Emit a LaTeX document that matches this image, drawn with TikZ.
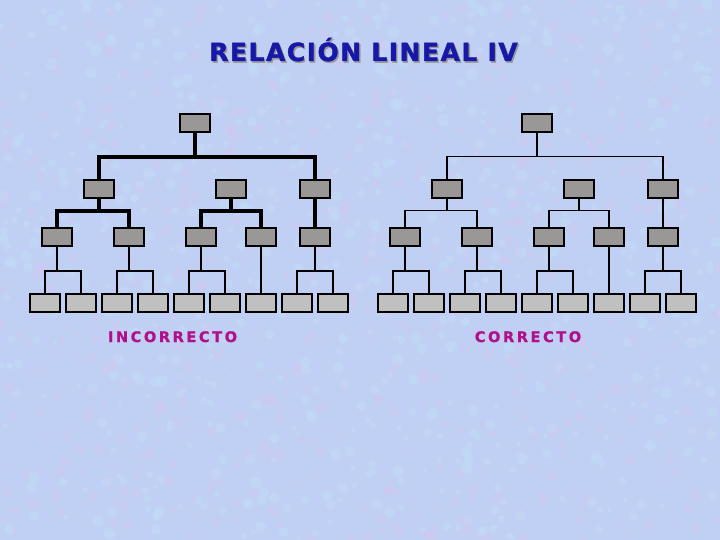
\documentclass[tikz,border=0pt]{standalone}
\usepackage{fontspec}
\newfontfamily\titlefont[LetterSpace=6,FakeBold=1.6]{DejaVu Sans}
\newfontfamily\labelfont[LetterSpace=18,FakeBold=1.2]{DejaVu Sans}
\usetikzlibrary{calc}
\definecolor{bgblue}{RGB}{192,208,244}
\definecolor{bgpink}{RGB}{222,196,240}
\definecolor{bgcyan}{RGB}{196,228,250}
\definecolor{upgray}{RGB}{154,152,151}
\definecolor{leafgray}{RGB}{192,192,192}
\definecolor{titleblue}{RGB}{24,24,168}
\definecolor{labelmag}{RGB}{176,16,136}
\tikzset{
  upbox/.style={draw=black, line width=1.5pt, fill=upgray, minimum width=30pt, minimum height=18pt, inner sep=0pt},
  leafbox/.style={upbox, fill=leafgray},
  thk/.style={line width=3.8pt, line join=miter, line cap=rect},
  thn/.style={line width=1.5pt, line join=miter},
  titletext/.style={anchor=base, font=\titlefont\bfseries\fontsize{25}{30}\selectfont},
  labeltext/.style={anchor=base, text=labelmag, font=\labelfont\bfseries\fontsize{14.5}{18}\selectfont}
}
\newcommand\shadowtext[1]{\makebox[0pt][l]{\hspace{1.4pt}\raisebox{-1.6pt}{\textcolor{black!40}{#1}}}#1}
% #1 prefix, #2 x shift, #3 root centre x, #4 style of upper connectors
\newcommand\drawmytree[4]{%
  \node[upbox] (#1root) at (#3,123) {};
  \node[upbox] (#1A) at (99+#2,189) {};
  \node[upbox] (#1B) at (231+#2,189) {};
  \node[upbox] (#1C) at (315+#2,189) {};
  \node[upbox] (#1a1) at (57+#2,237) {};
  \node[upbox] (#1a2) at (129+#2,237) {};
  \node[upbox] (#1b1) at (201+#2,237) {};
  \node[upbox] (#1b2) at (261+#2,237) {};
  \node[upbox] (#1c1) at (315+#2,237) {};
  \foreach \i in {1,...,9} {
    \node[leafbox] (#1l\i) at ({45+36*(\i-1)+#2},303) {};
  }
  % upper connectors
  \draw[#4] (#1root.south) -- ($(#1root.south)+(0,24)$);
  \draw[#4] (#1A.north) |- ($(#1root.south)+(0,24)$) -| (#1C.north);
  \draw[#4] (#1A.south) -- ($(#1A.south)+(0,12)$);
  \draw[#4] (#1a1.north) |- ($(#1A.south)+(0,12)$) -| (#1a2.north);
  \draw[#4] (#1B.south) -- ($(#1B.south)+(0,12)$);
  \draw[#4] (#1b1.north) |- ($(#1B.south)+(0,12)$) -| (#1b2.north);
  \draw[#4] (#1C.south) -- (#1c1.north);
  % lower connectors
  \draw[thn] (#1a1.south) -- ($(#1a1.south)+(0,24)$);
  \draw[thn] (#1l1.north) |- ($(#1a1.south)+(0,24)$) -| (#1l2.north);
  \draw[thn] (#1a2.south) -- ($(#1a2.south)+(0,24)$);
  \draw[thn] (#1l3.north) |- ($(#1a2.south)+(0,24)$) -| (#1l4.north);
  \draw[thn] (#1b1.south) -- ($(#1b1.south)+(0,24)$);
  \draw[thn] (#1l5.north) |- ($(#1b1.south)+(0,24)$) -| (#1l6.north);
  \draw[thn] (#1b2.south) -- (#1l7.north);
  \draw[thn] (#1c1.south) -- ($(#1c1.south)+(0,24)$);
  \draw[thn] (#1l8.north) |- ($(#1c1.south)+(0,24)$) -| (#1l9.north);
}
\begin{document}
\begin{tikzpicture}[x=1pt,y=-1pt]
  \fill[bgblue] (0,0) rectangle (720,540);
  \useasboundingbox (0,0) rectangle (720,540);
  \pgfmathsetseed{7}
  \begin{scope}
    \clip (0,0) rectangle (720,540);
    \foreach \k in {1,...,700} {
      \pgfmathsetmacro\px{rnd*720}
      \pgfmathsetmacro\py{rnd*540}
      \pgfmathsetmacro\pr{2+rnd*4}
      \fill[bgpink, opacity=0.25] (\px,\py) circle[radius=\pr];
    }
    \foreach \k in {1,...,700} {
      \pgfmathsetmacro\px{rnd*720}
      \pgfmathsetmacro\py{rnd*540}
      \pgfmathsetmacro\pr{2+rnd*4}
      \fill[bgcyan, opacity=0.25] (\px,\py) circle[radius=\pr];
    }
  \end{scope}
  \node[titletext, text=titleblue] (title) at (363.5,61) {\shadowtext{RELACIÓN LINEAL IV}};
  \drawmytree{L}{0}{195}{thk}
  \drawmytree{R}{348}{537}{thn}
  \node[labeltext] (inc) at (172.5,342) {INCORRECTO};
  \node[labeltext] (cor) at (528,342) {CORRECTO};
\end{tikzpicture}
\end{document}
